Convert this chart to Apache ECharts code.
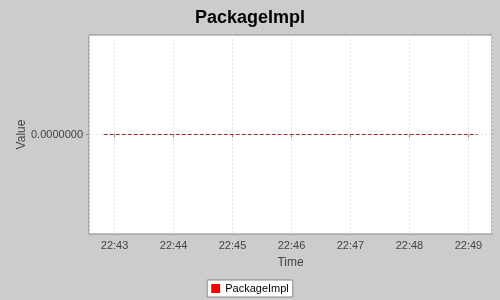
<!DOCTYPE html>
<html><head><meta charset="utf-8">
<script src="https://cdn.jsdelivr.net/npm/echarts@6/dist/echarts.min.js"></script>
<style>html,body{margin:0;padding:0;background:#cccccc;}#c{width:500px;height:300px;}</style>
</head><body><div id="c"></div>
<script>
var times = ['2024-01-01 22:42:49','2024-01-01 22:43:19','2024-01-01 22:43:49','2024-01-01 22:44:19','2024-01-01 22:44:49','2024-01-01 22:45:19','2024-01-01 22:45:49','2024-01-01 22:46:19','2024-01-01 22:46:49','2024-01-01 22:47:19','2024-01-01 22:47:49','2024-01-01 22:48:19','2024-01-01 22:48:49','2024-01-01 22:49:09'];
var values = [0,0,0,0,0,0,0,0,0,0,0,0,0,0];
var seriesName = 'PackageImpl';
var xMin = '2024-01-01 22:42:34';
var xMax = '2024-01-01 22:49:24';

function parseT(s){ var p=s.split(/[- :]/); return new Date(+p[0],+p[1]-1,+p[2],+p[3],+p[4],+p[5]).getTime(); }
function pad(n){return (n<10?'0':'')+n;}
var data = times.map(function(t,i){return [parseT(t), values[i]];});
var chart = echarts.init(document.getElementById('c'), null, {renderer:'canvas'});
chart.setOption({
  backgroundColor:'#cccccc',
  animation:false,
  title:{text:'PackageImpl',left:'center',top:4,textStyle:{fontFamily:'Liberation Sans',fontSize:18,fontWeight:'bold',color:'#000'}},
  grid:{left:89,top:35,right:8,bottom:66,show:true,backgroundColor:'#ffffff',borderColor:'#888888',borderWidth:1},
  xAxis:{type:'time',min:parseT(xMin),max:parseT(xMax),minInterval:60000,maxInterval:60000,
    name:'Time',nameLocation:'middle',nameGap:23,nameMoveOverlap:false,nameTextStyle:{fontFamily:'Liberation Sans',fontSize:12,color:'#444'},
    axisLine:{show:false},
    axisTick:{show:true,length:3,lineStyle:{color:'#888'}},
    axisLabel:{fontFamily:'Liberation Sans',fontSize:11,color:'#444',margin:6,hideOverlap:false,
      formatter:function(v){var d=new Date(v);return pad(d.getHours())+':'+pad(d.getMinutes());}},
    splitLine:{show:true,lineStyle:{color:'#e2e2e2',type:[2,2],width:1}}
  },
  yAxis:{type:'value',min:-1,max:1,interval:1,
    name:'Value',nameLocation:'middle',nameGap:61,nameRotate:90,nameMoveOverlap:false,nameTextStyle:{fontFamily:'Liberation Sans',fontSize:12,color:'#444'},
    axisLine:{show:false},
    axisTick:{show:true,length:3,lineStyle:{color:'#888'},customValues:[0]},
    axisLabel:{fontFamily:'Liberation Sans',fontSize:11,color:'#444',margin:6,customValues:[0],
      formatter:function(v){return v.toFixed(7);}},
    splitLine:{show:true,lineStyle:{color:'#e2e2e2',type:[2,2],width:1}}
  },
  legend:{show:true,bottom:3,left:'center',itemWidth:9,itemHeight:9,itemGap:5,
    backgroundColor:'#ffffff',borderColor:'#888888',borderWidth:1,borderRadius:0,padding:[3,4,3,4],
    icon:'rect',textStyle:{fontFamily:'Liberation Sans',fontSize:11,color:'#000'},
    data:[{name:seriesName,itemStyle:{color:'#ff0000'}}]},
  series:[{name:seriesName,type:'line',data:data,showSymbol:false,symbol:'none',
    color:'#ff0000',
    lineStyle:{color:'#a82830',width:1,type:[4,2]}}]
});
</script></body></html>
